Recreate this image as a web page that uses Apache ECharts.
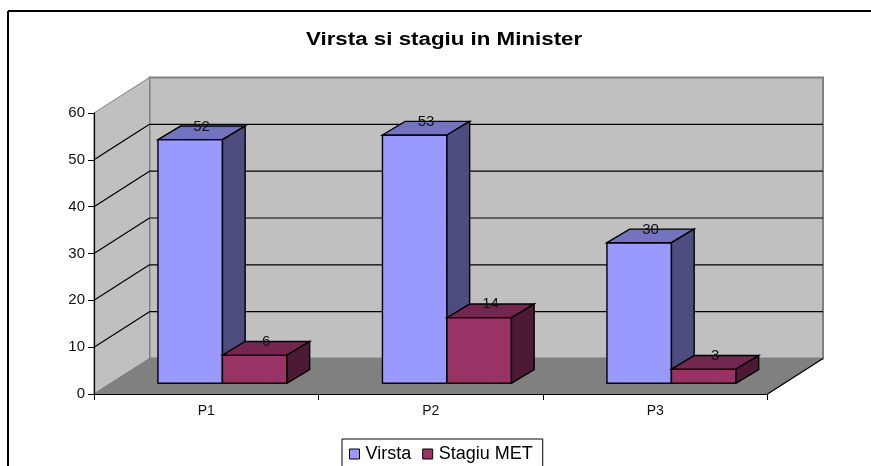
<!DOCTYPE html>
<html><head><meta charset="utf-8">
<style>html,body{margin:0;padding:0;background:#fff}#c{width:871px;height:466px}</style>
<script src="https://cdn.jsdelivr.net/npm/echarts@6/dist/echarts.min.js"></script>
</head><body><div id="c"></div>
<script>
const categories = ['P1', 'P2', 'P3'];
const virsta = [52, 53, 30];
const stagiuMET = [6, 14, 3];
const yTicks = [0, 10, 20, 30, 40, 50, 60];
const chartTitle = 'Virsta si stagiu in Minister';
const FONT = '"Liberation Sans", Arial, sans-serif';

// projection of the chart box
const WALL = { dx: 55.5, dy: -35.5 };
const BAR = { dx: 22.7, dy: -13.6, ox: 16.2, oy: -10.8, width: 64.5 };

function line(x1, y1, x2, y2, stroke, w) {
  return { type: 'line', shape: { x1, y1, x2, y2 }, style: { stroke, lineWidth: w, fill: null } };
}
function poly(points, fill, stroke, w) {
  return { type: 'polygon', shape: { points }, style: { fill, stroke: stroke || fill, lineWidth: w || 0 } };
}
function corners(api) {
  const band = api.size([1, 0])[0];
  const a = api.coord([0, 0]), b = api.coord([categories.length - 1, 0]), t = api.coord([0, yTicks[yTicks.length - 1]]);
  return { l: a[0] - band / 2, r: b[0] + band / 2, bot: a[1], top: t[1] };
}
function renderWalls(params, api) {
  const c = corners(api), d = WALL;
  return { type: 'group', silent: true, children: [
    poly([[c.l + d.dx, c.top + d.dy], [c.r + d.dx, c.top + d.dy], [c.r + d.dx, c.bot + d.dy], [c.l + d.dx, c.bot + d.dy]], '#C0C0C0', '#808080', 2),
    poly([[c.l, c.top], [c.l + d.dx, c.top + d.dy], [c.l + d.dx, c.bot + d.dy], [c.l, c.bot]], '#C0C0C0', '#808080', 1),
    poly([[c.l, c.bot], [c.l + d.dx, c.bot + d.dy], [c.r + d.dx, c.bot + d.dy], [c.r, c.bot]], '#808080', '#808080', 1),
    line(c.r, c.bot, c.r + d.dx, c.bot + d.dy, '#000', 1.2)
  ]};
}
function renderGrid(params, api) {
  const c = corners(api), d = WALL, v = api.value(0);
  if (v === 0 || v === yTicks[yTicks.length - 1]) return { type: 'group', children: [] };
  const y = api.coord([0, v])[1];
  return { type: 'group', silent: true, children: [
    line(c.l, y, c.l + d.dx, y + d.dy, '#000', 1.2),
    line(c.l + d.dx, y + d.dy, c.r + d.dx, y + d.dy, '#000', 1.2)
  ]};
}
function barRenderer(seriesIndex, front, top, side) {
  return function (params, api) {
    const cat = api.value(0), val = api.value(1);
    const centre = api.coord([cat, 0])[0];
    const base = api.coord([cat, 0])[1] + BAR.oy;
    const h = api.coord([cat, 0])[1] - api.coord([cat, val])[1];
    const x0 = centre + BAR.ox + (seriesIndex - 1) * BAR.width;
    const x1 = x0 + BAR.width, y1 = base, y0 = base - h;
    const dx = BAR.dx, dy = BAR.dy;
    return { type: 'group', children: [
      poly([[x0, y0], [x1, y0], [x1, y1], [x0, y1]], front, '#000', 1.4),
      poly([[x0, y0], [x0 + dx, y0 + dy], [x1 + dx, y0 + dy], [x1, y0]], top, '#000', 1.4),
      poly([[x1, y0], [x1 + dx, y0 + dy], [x1 + dx, y1 + dy], [x1, y1]], side, '#000', 1.4),
      { type: 'text', z2: 10, style: { text: String(val), x: (x0 + x1) / 2 + dx / 2, y: y0 + dy / 2 - 6.5, align: 'center', verticalAlign: 'middle', fill: '#111', font: '15px ' + FONT } }
    ]};
  };
}

const chart = echarts.init(document.getElementById('c'), null, { renderer: 'canvas' });
chart.setOption({
  animation: false,
  backgroundColor: '#fff',
  color: ['#9999FF', '#993366'],
  legend: { data: ['Virsta', 'Stagiu MET'], left: 342, top: 439, orient: 'horizontal',
    backgroundColor: '#fff', borderColor: '#000', borderWidth: 1, padding: [6, 10, 8, 7],
    itemWidth: 10, itemHeight: 10, itemGap: 11, icon: 'rect',
    textStyle: { fontFamily: FONT, fontSize: 18, color: '#000', padding: [0, 0, 0, 1] },
    itemStyle: { borderColor: '#000', borderWidth: 1 } },
  grid: { left: 94, right: 103.5, top: 113, bottom: 72 },
  xAxis: { type: 'category', data: categories,
    axisLine: { show: true, lineStyle: { color: '#000', width: 1.2 } },
    axisTick: { show: true, length: 6, lineStyle: { color: '#000' } },
    axisLabel: { color: '#111', fontFamily: FONT, fontSize: 14, margin: 10 }, z: 5 },
  yAxis: { type: 'value', min: 0, max: 60, interval: 10, splitLine: { show: false },
    axisLine: { show: true, lineStyle: { color: '#000', width: 1.2 } },
    axisTick: { show: true, length: 6, lineStyle: { color: '#000' } },
    axisLabel: { color: '#111', fontFamily: FONT, fontSize: 15, margin: 9 }, z: 5 },
  graphic: [
    { type: 'line', shape: { x1: 8, y1: 11, x2: 871, y2: 11 }, style: { stroke: '#000', lineWidth: 2 } },
    { type: 'line', shape: { x1: 8, y1: 11, x2: 8, y2: 466 }, style: { stroke: '#000', lineWidth: 2 } },
    { type: 'text', x: 306, y: 40, scaleX: 1.24, scaleY: 1,
      style: { text: chartTitle, font: 'bold 18px ' + FONT, fill: '#000', textAlign: 'left', textVerticalAlign: 'middle' } }
  ],
  series: [
    { type: 'custom', name: 'walls', coordinateSystem: 'cartesian2d', data: [[0, 0]], renderItem: renderWalls, z: 1, silent: true },
    { type: 'custom', name: 'grid', coordinateSystem: 'cartesian2d', data: yTicks.map(v => [v]), encode: { x: null, y: 0 }, renderItem: renderGrid, z: 2, silent: true },
    { type: 'custom', name: 'Virsta', coordinateSystem: 'cartesian2d', data: virsta.map((v, i) => [i, v]), renderItem: barRenderer(0, '#9999FF', '#7373BF', '#4D4D80'), z: 3,
      itemStyle: { color: '#9999FF' } },
    { type: 'custom', name: 'Stagiu MET', coordinateSystem: 'cartesian2d', data: stagiuMET.map((v, i) => [i, v]), renderItem: barRenderer(1, '#993366', '#732650', '#4D1A33'), z: 4,
      itemStyle: { color: '#993366' } }
  ]
});
</script></body></html>
